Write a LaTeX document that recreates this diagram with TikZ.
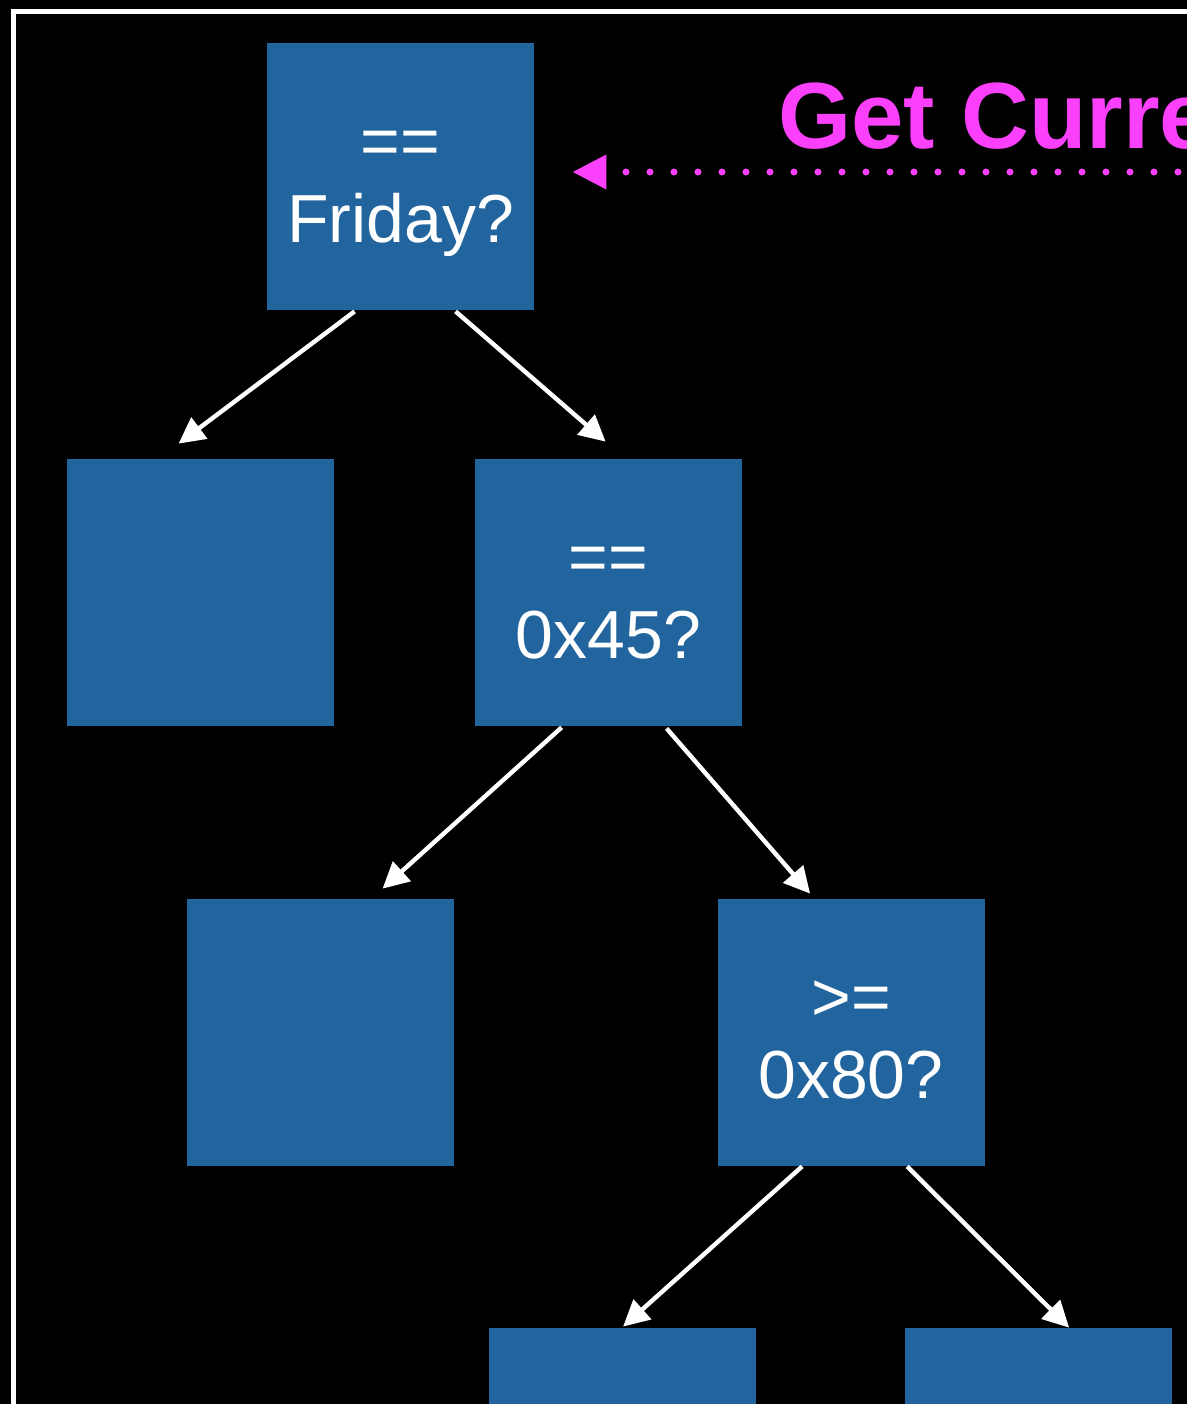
\documentclass[tikz,border=0pt]{standalone}
\usepackage{fontspec}
\setmainfont{Liberation Sans}
\usetikzlibrary{arrows.meta,calc}
\definecolor{boxblue}{RGB}{33,100,158}
\definecolor{magentaA}{RGB}{250,64,250}
\tikzset{
  x=0.5pt, y=-0.5pt,
  box/.style={fill=boxblue, draw=none, inner sep=0pt, minimum width=133.5pt, minimum height=133.5pt},
  lbl/.style={text=white, font=\fontsize{34pt}{38pt}\selectfont, inner sep=0pt, anchor=base},
  arr/.style={draw=white, line width=2.2pt, -{Triangle[length=13pt,width=13pt]}},
  dotarr/.style={draw=magentaA, line width=3.5pt, line cap=round, dash pattern=on 0pt off 12pt, -{Triangle[length=17pt,width=16.5pt,line cap=butt]}},
  title/.style={text=magentaA, font=\fontsize{47pt}{50pt}\selectfont\bfseries, inner sep=0pt, anchor=base west}
}
\begin{document}
\begin{tikzpicture}
\useasboundingbox (0,0) rectangle (1187,1404);
\clip (0,0) rectangle (1187,1404);
\fill[black] (0,0) rectangle (1187,1404);
\draw[white, line width=2.5pt] (1300,11) -- (13.5,11) -- (13.5,1500);

\node[box] (root) at (400.5,176.5) {};
\node[box] (l1l) at (200.5,592.5) {};
\node[box] (l1r) at (608.5,592.5) {};
\node[box] (l2l) at (320.5,1032.5) {};
\node[box] (l2r) at (851,1032.5) {};
\node[box] (l3l) at (622,1461.5) {};
\node[box] (l3r) at (1038,1461.5) {};

\node[lbl] (roota) at ([yshift=6pt]root.center) {==};
\node[lbl] (rootb) at ([yshift=-33pt]root.center) {Friday?};
\node[lbl] (l1ra) at ([yshift=6pt]l1r.center) {==};
\node[lbl] (l1rb) at ([yshift=-33pt]l1r.center) {0x45?};
\node[lbl] (l2ra) at ([yshift=6pt]l2r.center) {>=};
\node[lbl] (l2rb) at ([yshift=-33pt]l2r.center) {0x80?};

\draw[arr] ($(root.south west)+(88,1)$) -- ($(l1l.north west)+(112,-15)$);
\draw[arr] ($(root.south west)+(189,1)$) -- ($(l1r.north west)+(131,-17)$);
\draw[arr] ($(l1r.south west)+(87,1)$) -- ($(l2l.north west)+(196,-10)$);
\draw[arr] ($(l1r.south west)+(192,2)$) -- ($(l2r.north west)+(93,-5)$);
\draw[arr] ($(l2r.south west)+(85,0)$) -- ($(l3l.north west)+(135,-1)$);
\draw[arr] ($(l2r.south west)+(190,0)$) -- ($(l3r.north west)+(165,0)$);

\coordinate (src) at (1178,172);
\draw[dotarr] (src) -- ($(root.east)+(38,-4.5)$);
\node[title] (ttl) at (778,148) {Get Curre};
\end{tikzpicture}
\end{document}
